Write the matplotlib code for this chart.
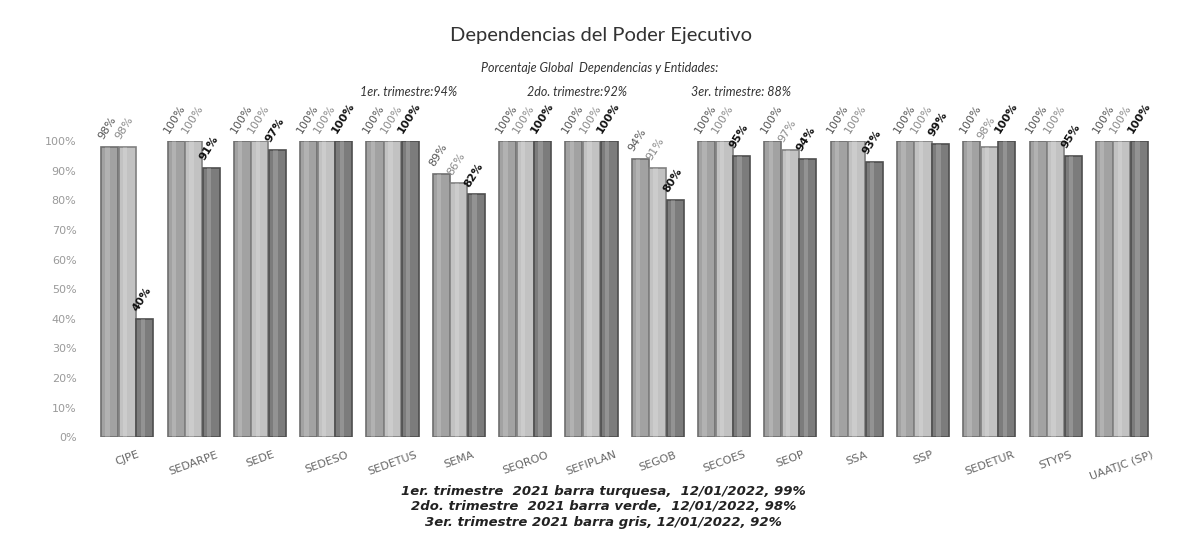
import numpy as np
import matplotlib
matplotlib.use("Agg")
import matplotlib.pyplot as plt

plt.rcParams['font.family'] = ['Lato', 'DejaVu Sans']

# datos
dependencias = ['CJPE', 'SEDARPE', 'SEDE', 'SEDESO', 'SEDETUS', 'SEMA', 'SEQROO',
                'SEFIPLAN', 'SEGOB', 'SECOES', 'SEOP', 'SSA', 'SSP', 'SEDETUR',
                'STYPS', 'UAATJC (SP)']
trim1 = [98, 100, 100, 100, 100, 89, 100, 100, 94, 100, 100, 100, 100, 100, 100, 100]
trim2 = [98, 100, 100, 100, 100, 86, 100, 100, 91, 100, 97, 100, 100, 98, 100, 100]
trim3 = [40, 91, 97, 100, 100, 82, 100, 100, 80, 95, 94, 93, 99, 100, 95, 100]
yticks = list(range(0, 101, 10))

series = [trim1, trim2, trim3]
colores = ['#a2a2a2', '#c2c2c2', '#7c7c7c']
bordes = ['#6e6e6e', '#808080', '#4e4e4e']
col_txt = ['#555555', '#8a8a8a', '#111111']
peso_txt = ['normal', 'normal', 'bold']
ancha = ['DejaVu Sans']

fig = plt.figure(figsize=(11.83, 5.39), dpi=100)
ax = fig.add_axes([0.074, 0.189, 0.908, 0.549])

x = np.arange(len(dependencias))
w = 0.265
for i, vals in enumerate(series):
    pos = x + (i - 1) * w
    ax.bar(pos, vals, width=w * 0.97, color=colores[i], edgecolor=bordes[i], linewidth=1.2)
    # brillo de cilindro
    ax.bar(pos - w * 0.12, vals, width=w * 0.25, color='white', alpha=0.18, linewidth=0)
    for p, v in zip(pos, vals):
        ax.text(p - w * 0.3, v + 2.0, f'{v}%', rotation=58, ha='left', va='bottom',
                fontsize=8, color=col_txt[i], fontweight=peso_txt[i], family=ancha,
                rotation_mode='anchor', clip_on=False)

ax.set_xlim(-0.6, len(dependencias) - 0.4)
ax.set_ylim(0, 100)
ax.set_yticks(yticks)
ax.set_yticklabels([f'{t}%' for t in yticks], fontsize=8, color='#9a9a9a', family=ancha)
ax.set_xticks(x)
ax.set_xticklabels(dependencias, rotation=20, fontsize=8, color='#666666', ha='center',
                   family=ancha)
ax.tick_params(length=0, pad=8)
ax.tick_params(axis='x', pad=9)
for s in ax.spines.values():
    s.set_visible(False)

fig.text(0.508, 0.935, 'Dependencias del Poder Ejecutivo', ha='center', va='center',
         fontsize=14.5, color='#333333')
fig.text(0.507, 0.873, 'Porcentaje Global  Dependencias y Entidades:', ha='center', va='center',
         fontsize=9, style='italic', color='#333333')
fig.text(0.345, 0.829, '1er. trimestre:94%', ha='center', va='center', fontsize=9,
         style='italic', color='#333333')
fig.text(0.488, 0.829, '2do. trimestre:92%', ha='center', va='center', fontsize=9,
         style='italic', color='#333333')
fig.text(0.626, 0.829, '3er. trimestre: 88%', ha='center', va='center', fontsize=9,
         style='italic', color='#333333')

pie = ['1er. trimestre  2021 barra turquesa,  12/01/2022, 99%',
       '2do. trimestre  2021 barra verde,  12/01/2022, 98%',
       '3er. trimestre 2021 barra gris, 12/01/2022, 92%']
for k, linea in enumerate(pie):
    fig.text(0.51, 0.089 - k * 0.029, linea, ha='center', va='center', fontsize=9.5,
             style='italic', fontweight='bold', color='#222222', family=ancha)

fig.savefig('out.png', dpi=100, facecolor='white')
